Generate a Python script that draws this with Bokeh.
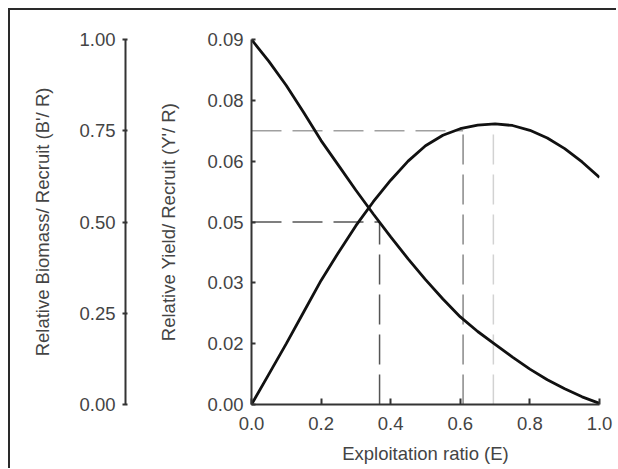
from bokeh.plotting import figure
from bokeh.models import Range1d, FixedTicker, PrintfTickFormatter
from bokeh.layouts import row
from bokeh.embed import file_html
from bokeh.resources import INLINE

# ---- data ----
E = [0.0, 0.05, 0.1, 0.15, 0.2, 0.25, 0.3, 0.35, 0.4, 0.45, 0.5,
     0.55, 0.6, 0.65, 0.7, 0.75, 0.8, 0.85, 0.9, 0.95, 1.0]
yield_per_recruit = [0.0, 0.0075, 0.015, 0.0228, 0.0306, 0.0375, 0.0441, 0.0500,
                     0.0553, 0.0600, 0.0638, 0.0664, 0.0680, 0.0689, 0.0692,
                     0.0688, 0.0676, 0.0657, 0.0631, 0.0598, 0.0560]
biomass_per_recruit = [1.0, 0.94, 0.874, 0.80, 0.723, 0.655, 0.587, 0.522, 0.459,
                       0.399, 0.342, 0.289, 0.240, 0.200, 0.165, 0.130, 0.097,
                       0.068, 0.043, 0.021, 0.003]

# reference points (E50, E0.1 / level, Emax)
E50, B50 = 0.368, 0.5
E_level, Y_level = 0.608, 0.0675
E_max, Y_max = 0.695, 0.0692

yield_ticks = [0.0, 0.015, 0.03, 0.045, 0.06, 0.075, 0.09]
yield_tick_labels = ["0.00", "0.02", "0.03", "0.05", "0.06", "0.08", "0.09"]
biomass_ticks = [0.0, 0.25, 0.5, 0.75, 1.0]
x_ticks = [0.0, 0.2, 0.4, 0.6, 0.8, 1.0]

FONT = "Liberation Sans"
AX = "#333333"
TXT = "#444444"
FS = "18.5px"
H = 458

bio_range = Range1d(0, 1)

# ---- left figure: only the B'/R axis ----
pa = figure(width=125, height=H, x_range=Range1d(0, 1), y_range=bio_range,
            output_backend="svg", toolbar_location=None,
            min_border_left=115, min_border_right=0, min_border_top=29,
            min_border_bottom=64, x_axis_location=None)
pa.outline_line_color = None
pa.grid.visible = False
ya = pa.yaxis[0]
ya.ticker = FixedTicker(ticks=biomass_ticks)
ya.formatter = PrintfTickFormatter(format="%.2f")
ya.axis_label = "Relative Biomass/ Recruit (B'/ R)"
ya.minor_tick_line_color = None
ya.major_tick_in = 2
ya.major_tick_out = 3
ya.axis_line_color = AX
ya.axis_line_width = 2
ya.major_tick_line_color = AX
ya.major_tick_line_width = 2
ya.major_label_standoff = 7
ya.major_label_text_font = FONT
ya.major_label_text_font_size = FS
ya.major_label_text_color = TXT
ya.axis_label_text_font = FONT
ya.axis_label_text_font_size = FS
ya.axis_label_text_font_style = "normal"
ya.axis_label_text_color = TXT
ya.axis_label_standoff = 23

# ---- main figure ----
pb = figure(width=481, height=H, x_range=Range1d(0, 1), y_range=Range1d(0, 0.09),
            output_backend="svg", toolbar_location=None,
            min_border_left=116, min_border_right=17, min_border_top=29,
            min_border_bottom=64)
pb.extra_y_ranges = {"bio": bio_range}
pb.outline_line_color = None
pb.grid.visible = False

yb = pb.yaxis[0]
yb.ticker = FixedTicker(ticks=yield_ticks)
yb.major_label_overrides = {t: l for t, l in zip(yield_ticks, yield_tick_labels)}
yb.axis_label = "Relative Yield/ Recruit (Y'/ R)"
yb.major_tick_in = 4
yb.major_tick_out = 0
yb.major_label_standoff = 8
yb.axis_label_standoff = 25

xb = pb.xaxis[0]
xb.ticker = FixedTicker(ticks=x_ticks)
xb.formatter = PrintfTickFormatter(format="%.1f")
xb.axis_label = "Exploitation ratio (E)"
xb.major_tick_in = 6
xb.major_tick_out = 0
xb.major_label_standoff = 12
xb.axis_label_standoff = 10

for ax in (yb, xb):
    ax.minor_tick_line_color = None
    ax.axis_line_color = AX
    ax.axis_line_width = 2
    ax.major_tick_line_color = AX
    ax.major_tick_line_width = 2
    ax.major_label_text_font = FONT
    ax.major_label_text_font_size = FS
    ax.major_label_text_color = TXT
    ax.axis_label_text_font = FONT
    ax.axis_label_text_font_size = FS
    ax.axis_label_text_font_style = "normal"
    ax.axis_label_text_color = TXT

# reference dashed lines
pb.line([E_max, E_max], [0, Y_max], line_color="#d2d2d2", line_width=1.5, line_dash="30 10")
pb.line([0, E_level], [Y_level, Y_level], line_color="#a0a0a0", line_width=1.5, line_dash="30 11")
pb.line([E_level, E_level], [0, Y_level], line_color="#888888", line_width=1.5, line_dash="30 10")
pb.line([0, E50], [B50, B50], y_range_name="bio", line_color="#555555", line_width=1.5, line_dash="30 11")
pb.line([E50, E50], [0, B50], y_range_name="bio", line_color="#555555", line_width=1.5, line_dash="30 10")

# curves
pb.line(E, yield_per_recruit, line_color="#111111", line_width=2.8)
pb.line(E, biomass_per_recruit, y_range_name="bio", line_color="#111111", line_width=2.8)

layout = row(pa, pb, styles={"border-left": "2px solid #2a2a2a",
                             "border-top": "2px solid #2a2a2a",
                             "margin-left": "8px", "margin-top": "8px"})

open("out.html", "w").write(file_html(layout, INLINE))
